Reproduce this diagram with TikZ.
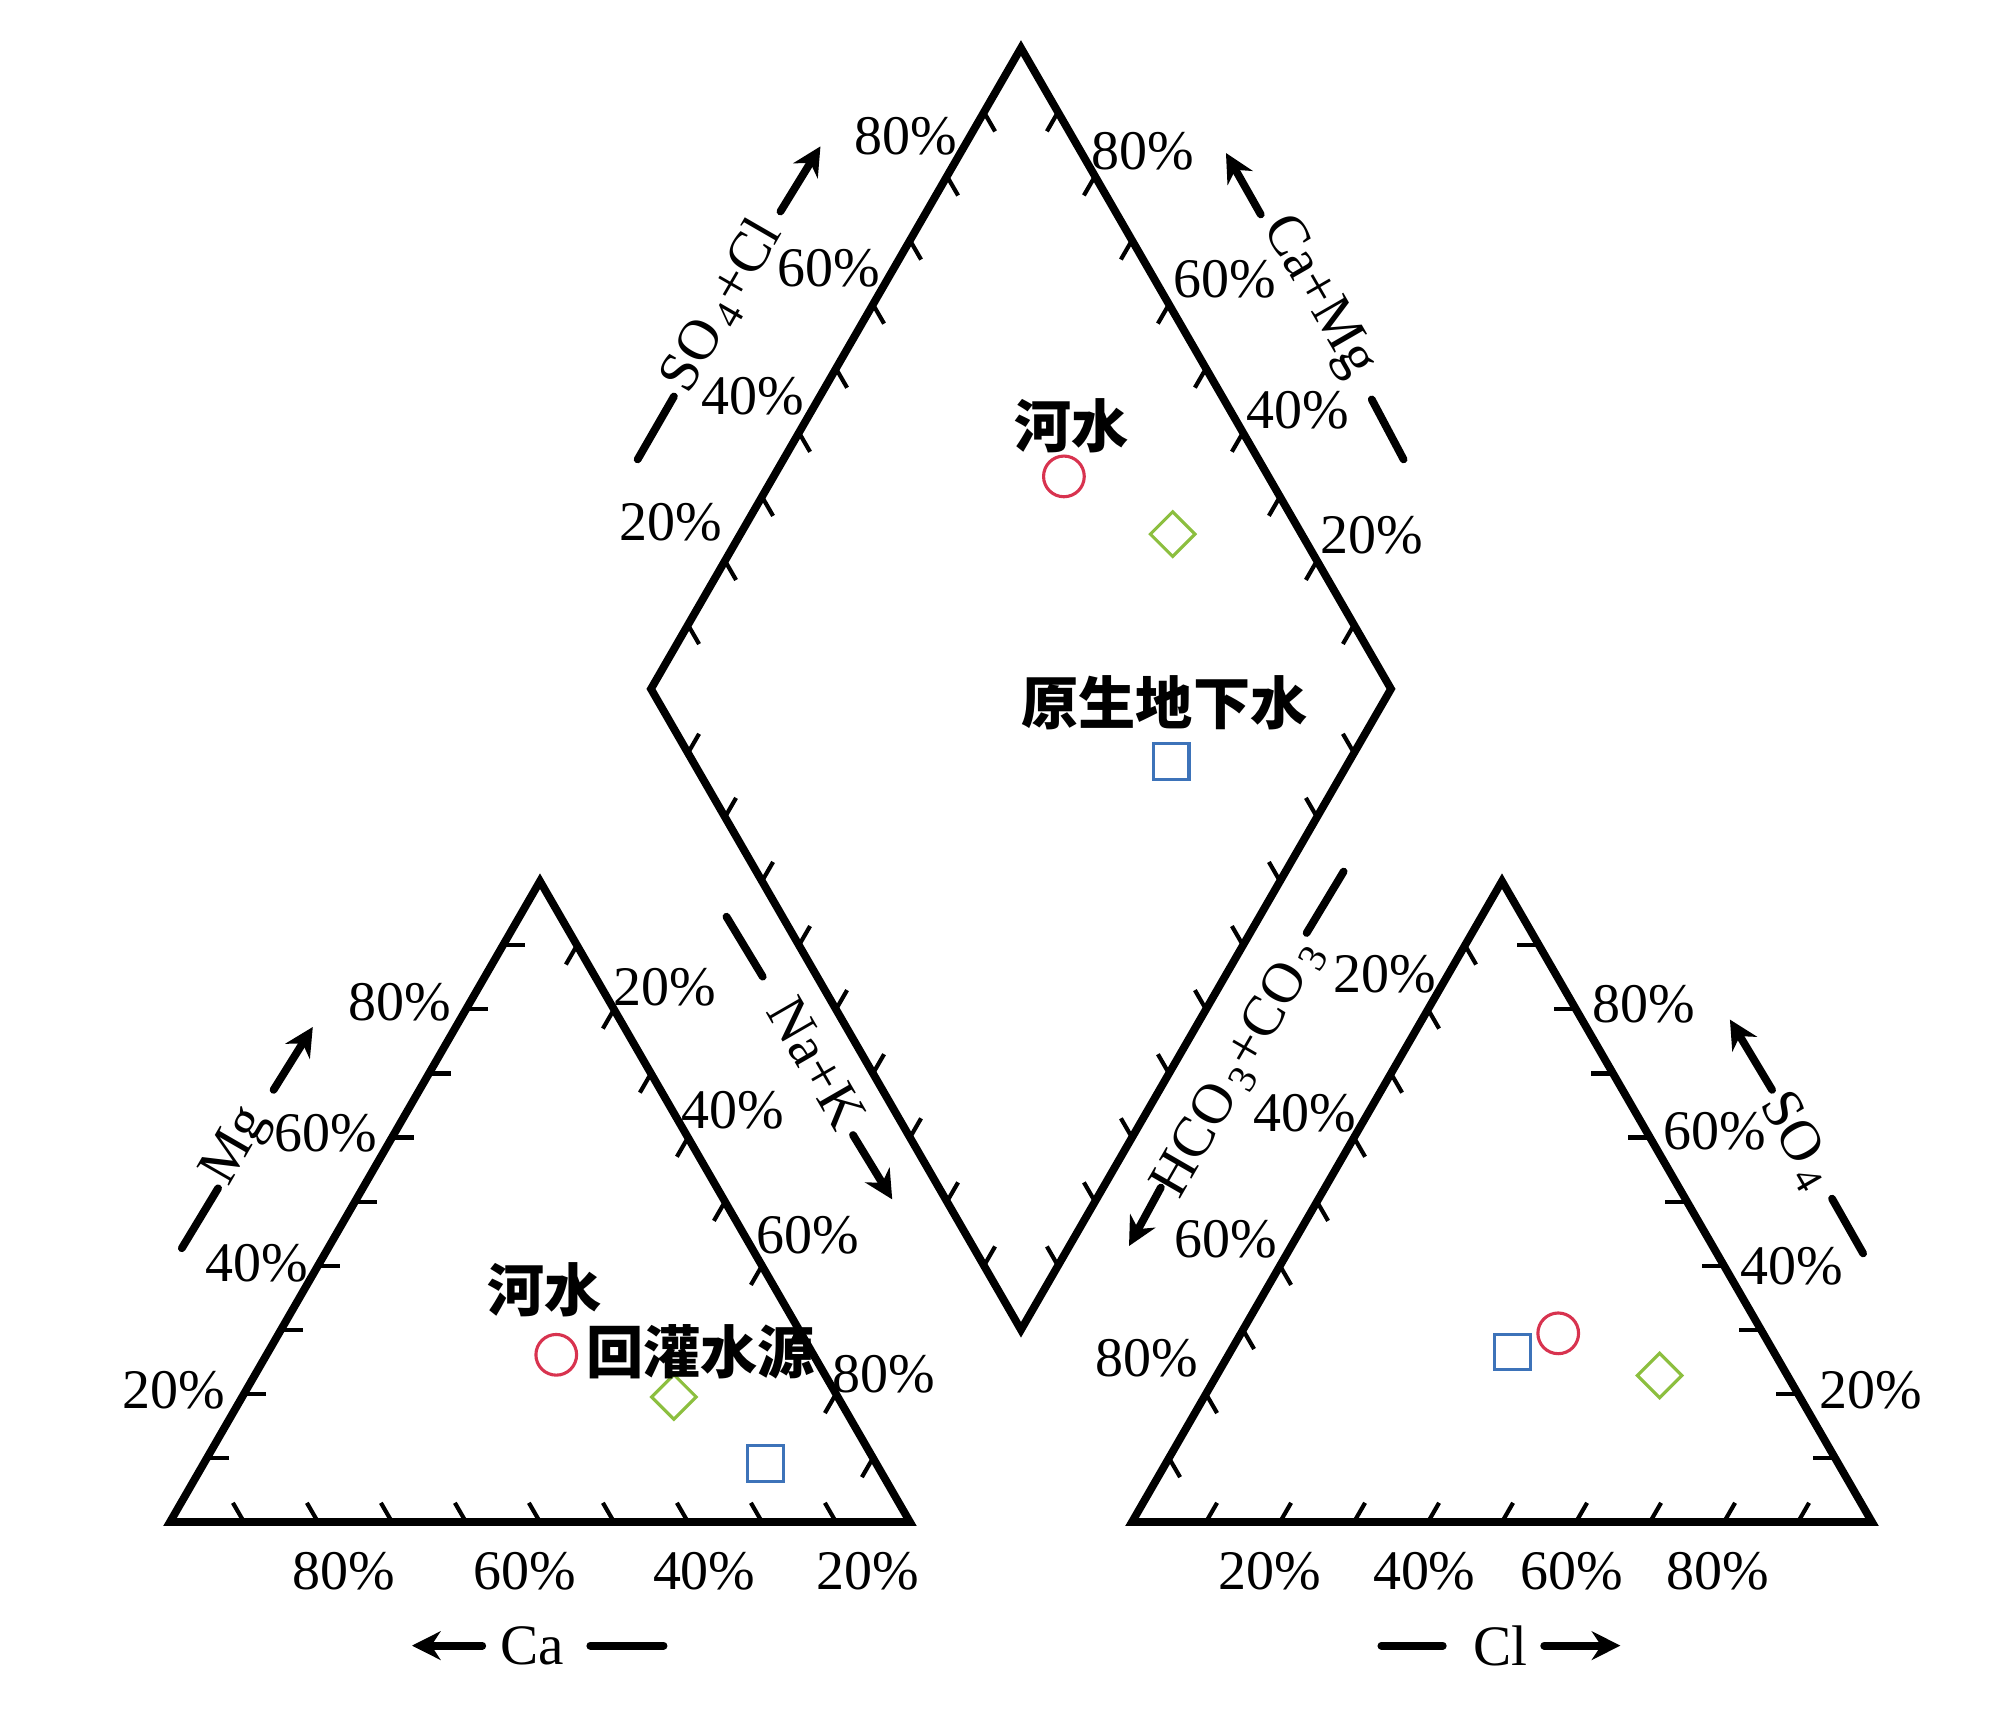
\documentclass[tikz,border=0pt]{standalone}
\usepackage{fontspec}
\setmainfont{Liberation Serif}
\newfontfamily\cjk{Noto Sans CJK SC}
\usetikzlibrary{arrows.meta}
\usetikzlibrary{shapes.geometric}
\definecolor{riverred}{HTML}{D8334F}
\definecolor{rechgreen}{HTML}{8CBF3F}
\definecolor{groundblue}{HTML}{3D73B9}
\tikzset{
outline/.style={ % outline of the triangles and the diamond
line width=3pt,
line join=miter},
ticks/.style={line width=1.6pt},
pct/.style={font=\fontsize{21.5}{22}\selectfont, inner sep=0pt},
ion/.style={font=\fontsize{22}{22}\selectfont, inner sep=0pt},
cjklabel/.style={font=\cjk\bfseries\fontsize{22}{22}\selectfont, inner sep=0pt},
axarrow/.style={line width=3pt, line cap=round, -{Stealth[length=11pt,width=11pt]}},
axdash/.style={line width=3pt, line cap=round},
river/.style={circle, draw=riverred, line width=1.2pt, minimum size=0.55cm, inner sep=0pt},
recharge/.style={diamond, draw=rechgreen, line width=1.2pt, minimum size=0.62cm, inner sep=0pt},
ground/.style={rectangle, draw=groundblue, line width=1.2pt, minimum size=0.48cm, inner sep=0pt}
}

\begin{document}
\begin{tikzpicture}
\useasboundingbox (-2.297,-2.541) rectangle (24.838,20.568);
% corners
\coordinate (L1) at (0,0);
\coordinate (L2) at (10,0);
\coordinate (L3) at (5,8.660);
\coordinate (R1) at (13,0);
\coordinate (R2) at (23,0);
\coordinate (R3) at (18,8.660);
\coordinate (Db) at (11.5,2.598);
\coordinate (Dl) at (6.5,11.258);
\coordinate (Dt) at (11.5,19.919);
\coordinate (Dr) at (16.5,11.258);

% ticks
\foreach \i in {1,...,9}{
\draw[ticks] (\i,0) -- ++(120:0.3);
\draw[ticks] (0.5*\i,0.866*\i) -- ++(0:0.3);
\draw[ticks] (10-0.5*\i,0.866*\i) -- ++(240:0.3);
\draw[ticks] (13+\i,0) -- ++(60:0.3);
\draw[ticks] (13+0.5*\i,0.866*\i) -- ++(-60:0.3);
\draw[ticks] (23-0.5*\i,0.866*\i) -- ++(180:0.3);
\draw[ticks] (6.5+0.5*\i,11.258+0.866*\i) -- ++(-60:0.3);
\draw[ticks] (11.5+0.5*\i,19.919-0.866*\i) -- ++(240:0.3);
\draw[ticks] (16.5-0.5*\i,11.258-0.866*\i) -- ++(120:0.3);
\draw[ticks] (11.5-0.5*\i,2.598+0.866*\i) -- ++(60:0.3);
}

% outlines
\draw[outline] (L1) -- (L2) -- (L3) -- cycle;
\draw[outline] (R1) -- (R2) -- (R3) -- cycle;
\draw[outline] (Db) -- (Dr) -- (Dt) -- (Dl) -- cycle;

% left triangle scale
\node[pct] (lb80) at (2.35,-0.66) {80\%};
\node[pct] (lb60) at (4.80,-0.66) {60\%};
\node[pct] (lb40) at (7.22,-0.66) {40\%};
\node[pct] (lb20) at (9.43,-0.66) {20\%};
\node[pct] (ll80) at (3.11,7.03) {80\%};
\node[pct] (ll60) at (2.11,5.25) {60\%};
\node[pct] (ll40) at (1.17,3.50) {40\%};
\node[pct] (ll20) at (0.05,1.78) {20\%};
\node[pct] (lr20) at (6.69,7.22) {20\%};
\node[pct] (lr40) at (7.60,5.56) {40\%};
\node[pct] (lr60) at (8.62,3.88) {60\%};
\node[pct] (lr80) at (9.64,2.00) {80\%};

% right triangle scale
\node[pct] (rb20) at (14.86,-0.66) {20\%};
\node[pct] (rb40) at (16.95,-0.66) {40\%};
\node[pct] (rb60) at (18.94,-0.66) {60\%};
\node[pct] (rb80) at (20.92,-0.66) {80\%};
\node[pct] (rl20) at (16.42,7.40) {20\%};
\node[pct] (rl40) at (15.34,5.52) {40\%};
\node[pct] (rl60) at (14.27,3.82) {60\%};
\node[pct] (rl80) at (13.20,2.21) {80\%};
\node[pct] (rr80) at (19.92,6.99) {80\%};
\node[pct] (rr60) at (20.87,5.28) {60\%};
\node[pct] (rr40) at (21.91,3.45) {40\%};
\node[pct] (rr20) at (22.98,1.78) {20\%};

% diamond scale
\node[pct] (dl80) at (9.94,18.72) {80\%};
\node[pct] (dl60) at (8.90,16.94) {60\%};
\node[pct] (dl40) at (7.88,15.21) {40\%};
\node[pct] (dl20) at (6.77,13.51) {20\%};
\node[pct] (dr80) at (13.15,18.52) {80\%};
\node[pct] (dr60) at (14.25,16.79) {60\%};
\node[pct] (dr40) at (15.24,15.03) {40\%};
\node[pct] (dr20) at (16.24,13.34) {20\%};

% axis names
\node[ion, rotate=60] (mg) at (0.91,5.07) {Mg};
\coordinate (mgA) at (0.16,3.70);
\coordinate (mgB) at (0.65,4.51);
\coordinate (mgC) at (1.40,5.84);
\coordinate (mgD) at (1.93,6.69);
\draw[axdash] (mgA) -- (mgB);
\draw[axarrow] (mgC) -- (mgD);

\node[ion] (ca) at (4.90,-1.67) {Ca};
\coordinate (caA) at (4.22,-1.67);
\coordinate (caB) at (3.27,-1.67);
\coordinate (caC) at (5.68,-1.67);
\coordinate (caD) at (6.67,-1.67);
\draw[axarrow] (caA) -- (caB);
\draw[axdash] (caC) -- (caD);

\node[ion, rotate=-60] (nak) at (8.74,6.20) {Na+K};
\coordinate (nakA) at (7.52,8.18);
\coordinate (nakB) at (8.01,7.37);
\coordinate (nakC) at (9.23,5.23);
\coordinate (nakD) at (9.76,4.36);
\draw[axdash] (nakA) -- (nakB);
\draw[axarrow] (nakC) -- (nakD);

\node[ion] (cl) at (17.98,-1.67) {Cl};
\coordinate (clA) at (16.37,-1.67);
\coordinate (clB) at (17.20,-1.67);
\coordinate (clC) at (18.57,-1.67);
\coordinate (clD) at (19.60,-1.67);
\draw[axdash] (clA) -- (clB);
\draw[axarrow] (clC) -- (clD);

\node[ion, rotate=-60] (so) at (21.99,5.15) {SO\textsubscript{\,4}};
\coordinate (soA) at (22.88,3.63);
\coordinate (soB) at (22.46,4.37);
\coordinate (soC) at (21.65,5.84);
\coordinate (soD) at (21.08,6.79);
\draw[axdash] (soA) -- (soB);
\draw[axarrow] (soC) -- (soD);

\node[ion, rotate=60] (hco) at (14.44,6.13) {HCO\textsubscript{\,3}+CO\textsubscript{\,3}};
\coordinate (hcoA) at (15.86,8.79);
\coordinate (hcoB) at (15.36,7.96);
\coordinate (hcoC) at (13.39,4.52);
\coordinate (hcoD) at (12.96,3.73);
\draw[axdash] (hcoA) -- (hcoB);
\draw[axarrow] (hcoC) -- (hcoD);

\node[ion, rotate=60] (socl) at (7.46,16.43) {SO\textsubscript{\,4}+Cl};
\coordinate (soclA) at (6.32,14.36);
\coordinate (soclB) at (6.81,15.21);
\coordinate (soclC) at (8.25,17.71);
\coordinate (soclD) at (8.79,18.59);
\draw[axdash] (soclA) -- (soclB);
\draw[axarrow] (soclC) -- (soclD);

\node[ion, rotate=-60] (camg) at (15.51,16.55) {Ca+Mg};
\coordinate (camgA) at (16.67,14.36);
\coordinate (camgB) at (16.24,15.17);
\coordinate (camgC) at (14.74,17.67);
\coordinate (camgD) at (14.27,18.50);
\draw[axdash] (camgA) -- (camgB);
\draw[axarrow] (camgC) -- (camgD);

% samples
\node[river] (lriver) at (5.22,2.26) {};
\node[recharge] (lrech) at (6.81,1.69) {};
\node[ground] (lground) at (8.05,0.79) {};
\node[cjklabel] (lrivername) at (5.06,3.14) {河水};
\node[cjklabel] (lrechname) at (7.17,2.30) {回灌水源};

\node[river] (rriver) at (18.76,2.55) {};
\node[recharge] (rrech) at (20.13,1.98) {};
\node[ground] (rground) at (18.14,2.30) {};

\node[river] (driver) at (12.08,14.13) {};
\node[recharge] (drech) at (13.55,13.35) {};
\node[ground] (dground) at (13.53,10.28) {};
\node[cjklabel] (drivername) at (12.18,14.82) {河水};
\node[cjklabel] (dgroundname) at (13.44,11.07) {原生地下水};
\end{tikzpicture}
\end{document}
